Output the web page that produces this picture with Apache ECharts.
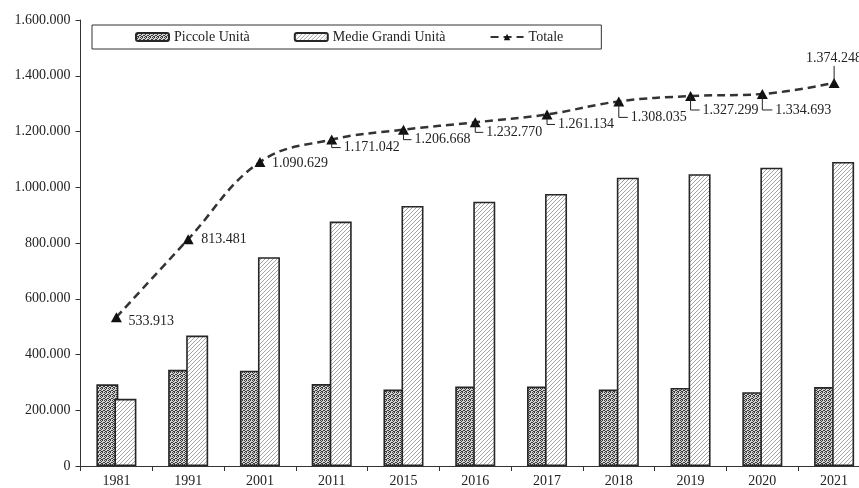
<!DOCTYPE html>
<html>
<head>
<meta charset="utf-8">
<script src="https://cdn.jsdelivr.net/npm/echarts@6/dist/echarts.min.js"></script>
<style>
  html, body { margin: 0; padding: 0; background: #fff; overflow: hidden; }
  #chart { width: 870px; height: 488px; }
</style>
</head>
<body>
<div id="chart"></div>
<script>
// Anni di rilevazione
const categories = ['1981', '1991', '2001', '2011', '2015', '2016', '2017', '2018', '2019', '2020', '2021'];
// Piccole Unità
const piccole = [293000, 345000, 342000, 294000, 274000, 285000, 285000, 274000, 280000, 265000, 283000];
// Medie Grandi Unità
const medieGrandi = [241000, 468000, 749000, 877000, 933000, 948000, 976000, 1034000, 1047000, 1070000, 1091000];
// Totale
const totale = [533913, 813481, 1090629, 1171042, 1206668, 1232770, 1261134, 1308035, 1327299, 1334693, 1374248];

// Etichette del totale: spostamento in pixel e tipo di richiamo
const labelPlacement = [
  [12, 4, 'side'], [13, 0, 'side'], [12, 1, 'side'], [12, 8, 'L'],
  [11, 10, 'L'], [11, 10, 'L'], [11, 10, 'L'], [12, 16, 'L'],
  [12, 14, 'L'], [13, 16, 'L'], [0, -25, 'up']
];

const FONT = '"Liberation Serif", "Times New Roman", serif';
const INK = '#262626';

function fmt(n) {
  return String(n).replace(/\B(?=(\d{3})+(?!\d))/g, '.');
}

// Retino a puntini fitti
function dotPattern() {
  const c = document.createElement('canvas');
  c.width = 4; c.height = 4;
  const g = c.getContext('2d');
  g.fillStyle = '#d4d4d4';
  g.fillRect(0, 0, 4, 4);
  g.fillStyle = '#3a3a3a';
  [[0, 0], [2, 0], [1, 1], [3, 2], [0, 2], [2, 3], [1, 3]].forEach(p => g.fillRect(p[0], p[1], 1, 1));
  return c;
}

// Tratteggio diagonale chiaro
function hatchPattern() {
  const c = document.createElement('canvas');
  c.width = 4; c.height = 4;
  const g = c.getContext('2d');
  g.fillStyle = '#ffffff';
  g.fillRect(0, 0, 4, 4);
  g.fillStyle = '#a3a3a3';
  [[3, 0], [2, 1], [1, 2], [0, 3]].forEach(p => g.fillRect(p[0], p[1], 1, 1));
  return c;
}

const chart = echarts.init(document.getElementById('chart'), null, { renderer: 'canvas' });

chart.setOption({
  animation: false,
  backgroundColor: '#fff',
  textStyle: { fontFamily: FONT },
  grid: { left: 80.5, right: 0, top: 20, bottom: 21.5, containLabel: false },
  legend: {
    data: ['Piccole Unità', 'Medie Grandi Unità', 'Totale'],
    left: 92, top: 25,
    padding: [5, 38, 5, 43],
    itemGap: 44,
    itemWidth: 33, itemHeight: 8,
    borderColor: '#333', borderWidth: 1,
    backgroundColor: '#fff',
    textStyle: { fontFamily: FONT, fontSize: 14, color: '#222' }
  },
  xAxis: {
    type: 'category',
    data: categories,
    axisLine: { lineStyle: { color: '#333', width: 1 } },
    axisTick: { show: true, length: 5, lineStyle: { color: '#333' } },
    axisLabel: { fontFamily: FONT, fontSize: 14, color: '#222', margin: 8 },
    splitLine: { show: false }
  },
  yAxis: {
    type: 'value',
    min: 0, max: 1600000, interval: 200000,
    axisLine: { show: true, lineStyle: { color: '#333', width: 1 } },
    axisTick: { show: true, length: 5, lineStyle: { color: '#333' } },
    axisLabel: { fontFamily: FONT, fontSize: 14, color: '#222', margin: 10, formatter: v => fmt(v) },
    splitLine: { show: false }
  },
  series: [
    {
      name: 'Piccole Unità',
      type: 'bar',
      data: piccole,
      barWidth: 22,
      barGap: '-18%',
      itemStyle: {
        color: { image: dotPattern(), repeat: 'repeat' },
        borderColor: INK, borderWidth: 1.6
      }
    },
    {
      name: 'Medie Grandi Unità',
      type: 'bar',
      data: medieGrandi,
      barWidth: 22,
      itemStyle: {
        color: { image: hatchPattern(), repeat: 'repeat' },
        borderColor: INK, borderWidth: 1.6
      }
    },
    {
      name: 'Totale',
      type: 'line',
      data: totale,
      smooth: 0.4,
      symbol: 'triangle',
      symbolSize: [11, 10],
      z: 5,
      lineStyle: { color: '#333', width: 2.5, type: [8, 5] },
      itemStyle: { color: '#111' }
    },
    {
      // Etichette del totale con tratto di richiamo
      type: 'custom',
      data: totale.map((v, i) => [i, v]),
      encode: { x: 0, y: 1 },
      z: 6,
      silent: true,
      renderItem: function (params, api) {
        const i = params.dataIndex;
        const pt = api.coord([api.value(0), api.value(1)]);
        const [dx, dy, kind] = labelPlacement[i];
        const text = fmt(api.value(1));
        const children = [];
        const stroke = { stroke: '#222', lineWidth: 1, fill: null };
        const font = '14px ' + FONT;
        if (kind === 'L') {
          children.push({
            type: 'polyline',
            shape: { points: [[pt[0], pt[1]], [pt[0], pt[1] + dy], [pt[0] + dx - 3, pt[1] + dy]] },
            style: stroke
          });
          children.push({
            type: 'text',
            style: { x: pt[0] + dx, y: pt[1] + dy, text: text, align: 'left', verticalAlign: 'middle', font: font, fill: '#222' }
          });
        } else if (kind === 'up') {
          children.push({
            type: 'line',
            shape: { x1: pt[0], y1: pt[1], x2: pt[0], y2: pt[1] + dy + 8 },
            style: stroke
          });
          children.push({
            type: 'text',
            style: { x: pt[0], y: pt[1] + dy, text: text, align: 'center', verticalAlign: 'middle', font: font, fill: '#222' }
          });
        } else {
          children.push({
            type: 'text',
            style: { x: pt[0] + dx, y: pt[1] + dy, text: text, align: 'left', verticalAlign: 'middle', font: font, fill: '#222' }
          });
        }
        return { type: 'group', children: children };
      }
    }
  ]
});
</script>
</body>
</html>
